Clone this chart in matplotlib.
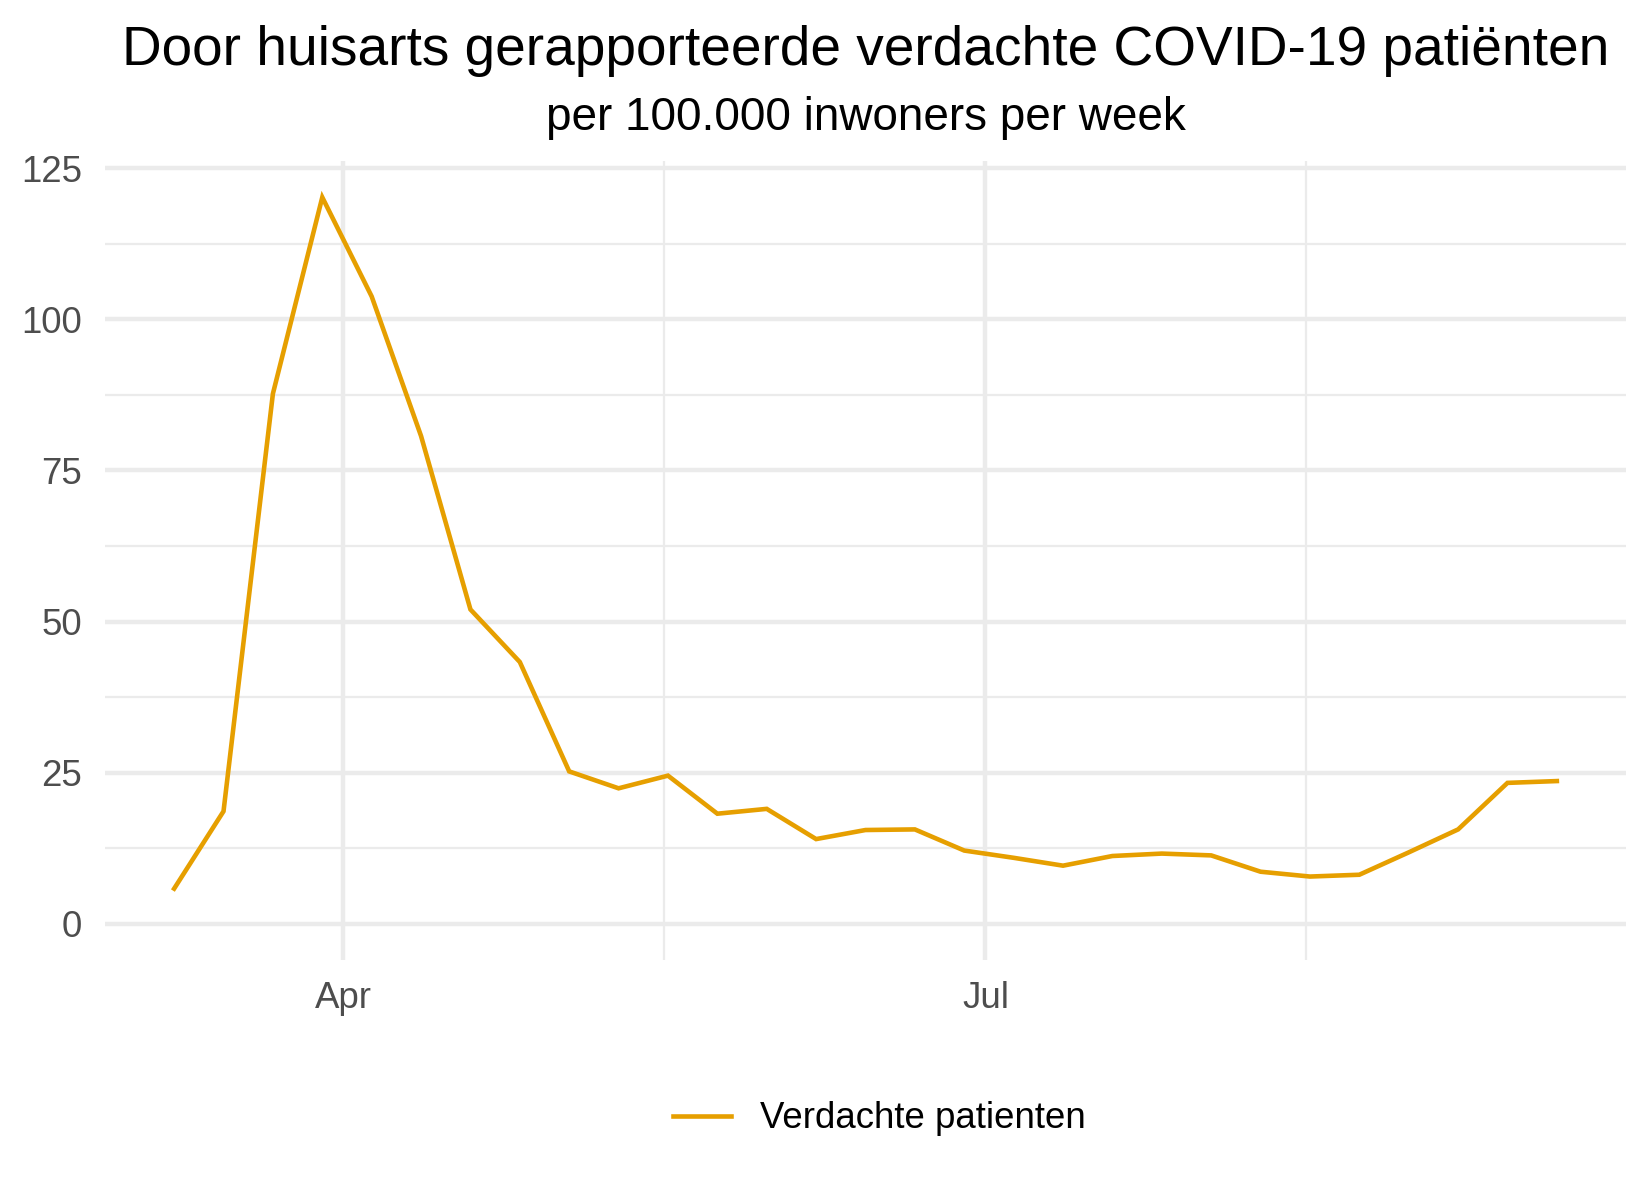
import matplotlib
matplotlib.use('Agg')

import matplotlib.pyplot as plt
import matplotlib.dates as mdates
import numpy as np
import pandas as pd

# weekly data (week start dates)
weeks = pd.date_range('2020-03-08', periods=29, freq='7D')
verdacht = [5.8, 18.6, 87.7, 120.2, 103.8, 80.7, 52.0, 43.3, 25.2, 22.4,
            24.5, 18.2, 19.0, 14.0, 15.5, 15.6, 12.1, 10.9, 9.6, 11.2,
            11.6, 11.3, 8.6, 7.8, 8.1, 11.8, 15.6, 23.3, 23.6]

title = 'Door huisarts gerapporteerde verdachte COVID-19 patiënten'
subtitle = 'per 100.000 inwoners per week'
legend_label = 'Verdachte patienten'
line_color = '#E69F00'
grid_color = '#EBEBEB'

plt.rcParams['font.family'] = ['Liberation Sans', 'DejaVu Sans']

fig = plt.figure(figsize=(5.5, 4), dpi=300)
ax = fig.add_axes([105 / 1650, 1 - 960 / 1200, (1626 - 105) / 1650, (960 - 161) / 1200])

line, = ax.plot(weeks, verdacht, color=line_color, linewidth=1.1, solid_joinstyle='miter')

# ggplot-like limits: 5% expansion, y includes 0
x0 = mdates.date2num(weeks[0])
x1 = mdates.date2num(weeks[-1])
dx = (x1 - x0) * 0.05
ax.set_xlim(x0 - dx, x1 + dx)
ymax = max(verdacht)
ax.set_ylim(-ymax * 0.05, ymax * 1.05)

ax.set_yticks([0, 25, 50, 75, 100, 125])
ax.set_yticks([12.5, 37.5, 62.5, 87.5, 112.5], minor=True)
major_x = pd.to_datetime(['2020-04-01', '2020-07-01'])
minor_x = pd.to_datetime(['2020-05-16 12:00', '2020-08-15 12:00'])
ax.set_xticks(major_x)
ax.set_xticklabels(['Apr', 'Jul'])
ax.set_xticks(minor_x, minor=True)

ax.grid(which='major', color=grid_color, linewidth=1.07)
ax.grid(which='minor', color=grid_color, linewidth=0.53)
ax.set_axisbelow(True)
for s in ax.spines.values():
    s.set_visible(False)
ax.tick_params(which='both', length=0)
ax.tick_params(axis='y', labelsize=8.8, labelcolor='#4D4D4D', pad=5.5)
ax.tick_params(axis='x', labelsize=8.8, labelcolor='#4D4D4D', pad=5)

cx = (105 + 1626) / 2 / 1650
fig.text(cx, 1 - 65 / 1200, title, ha='center', va='baseline', fontsize=13.2)
fig.text(cx, 1 - 130 / 1200, subtitle, ha='center', va='baseline', fontsize=11)

fig.legend([line], [legend_label], loc='center', bbox_to_anchor=(0.533, 1 - 1119 / 1200),
           frameon=False, fontsize=8.8, handlelength=1.58, handletextpad=0.78)

plt.savefig('out.png', dpi=300)
